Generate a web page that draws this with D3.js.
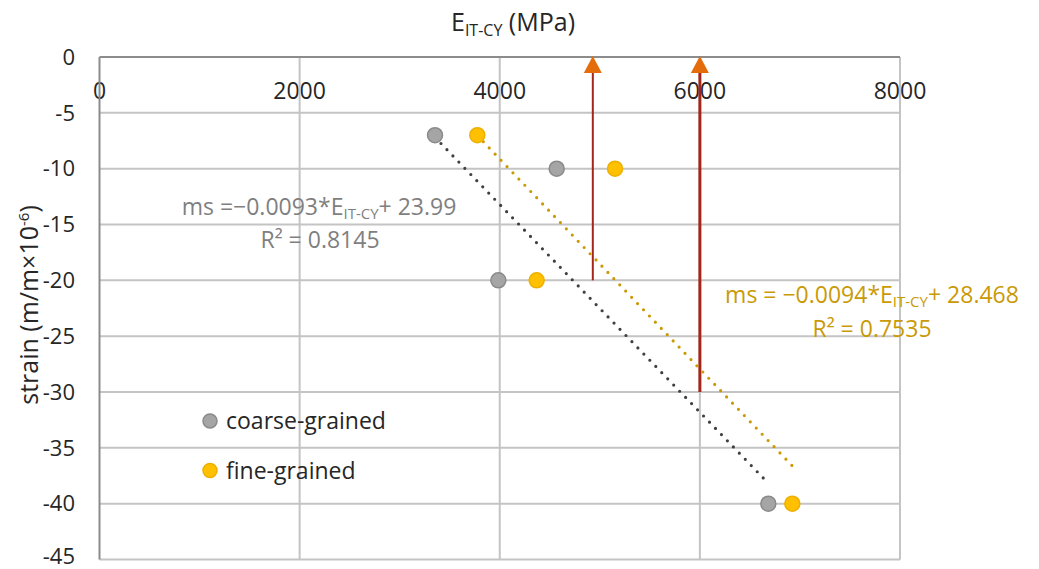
<!DOCTYPE html>
<html>
<head>
<meta charset="utf-8">
<script src="https://cdn.jsdelivr.net/npm/d3@7"></script>
<style>
  body { margin: 0; background: #fff; }
  svg { display: block; font-family: "Open Sans", sans-serif; }
</style>
</head>
<body>
<div id="chart"></div>
<script>
// values
const xTicks = [0, 2000, 4000, 6000, 8000];
const yTicks = [0, -5, -10, -15, -20, -25, -30, -35, -40, -45];

const coarseE = [3353, 4569, 3986, 6684];
const coarseMs = [-7, -10, -20, -40];
const fineE = [3776, 5152, 4369, 6924];
const fineMs = [-7, -10, -20, -40];

// trendline coefficients as shown on the chart: [slope, intercept]
const coarseFit = [-0.0093, 23.99];
const fineFit = [-0.0094, 28.468];

// vertical arrows: E value, start strain (they point up to 0)
const arrowE = [4930, 6000];
const arrowFrom = [-20, -30];
const arrowWidth = [2, 3];

const W = 1039, H = 569;

const svg = d3.select('#chart').append('svg')
    .attr('width', W)
    .attr('height', H);

const x = d3.scaleLinear().domain([0, 8000]).range([99.5, 900]);
const y = d3.scaleLinear().domain([0, -45]).range([57, 559.5]);

// tick labels first, grid lines are drawn over them like in the original
svg.append('g')
    .selectAll('text')
    .data(xTicks)
    .enter()
    .append('text')
    .attr('x', d => x(d))
    .attr('y', 90.5)
    .attr('dy', '0.35em')
    .attr('text-anchor', 'middle')
    .style('font-size', '23px')
    .style('fill', '#262626')
    .text(d => d);

svg.append('g')
    .selectAll('text')
    .data(yTicks)
    .enter()
    .append('text')
    .attr('x', 75)
    .attr('y', d => Math.min(y(d), 556))
    .attr('dy', '0.35em')
    .attr('text-anchor', 'end')
    .style('font-size', '22px')
    .style('fill', '#262626')
    .text(d => d === 0 ? '0' : '-' + Math.abs(d));

// grid
const grid = svg.append('g');
grid.selectAll('line.h')
    .data(yTicks.slice(1))
    .enter()
    .append('line')
    .attr('x1', x(0)).attr('x2', x(8000))
    .attr('y1', d => y(d)).attr('y2', d => y(d))
    .style('stroke', '#c4c4c4')
    .style('stroke-width', 2);

grid.selectAll('line.v')
    .data(xTicks.slice(1))
    .enter()
    .append('line')
    .attr('x1', d => x(d)).attr('x2', d => x(d))
    .attr('y1', y(0)).attr('y2', y(-45))
    .style('stroke', '#c4c4c4')
    .style('stroke-width', 2);

// axis lines (top and left)
svg.append('line')
    .attr('x1', x(0)).attr('x2', x(8000))
    .attr('y1', y(0)).attr('y2', y(0))
    .style('stroke', '#8c8c8c')
    .style('stroke-width', 2);
svg.append('line')
    .attr('x1', x(0)).attr('x2', x(0))
    .attr('y1', y(0)).attr('y2', y(-45))
    .style('stroke', '#8c8c8c')
    .style('stroke-width', 2);

// arrows
const arrows = svg.append('g');
arrowE.forEach((e, i) => {
    arrows.append('line')
        .attr('x1', x(e)).attr('x2', x(e))
        .attr('y1', y(arrowFrom[i])).attr('y2', y(0) + 14)
        .style('stroke', '#a3261b')
        .style('stroke-width', arrowWidth[i]);
    const tx = x(e), ty = y(0) - 1;
    arrows.append('path')
        .attr('d', `M${tx},${ty} L${tx - 9},${ty + 17} L${tx + 9},${ty + 17} Z`)
        .style('fill', '#e46c0a');
});

// trendlines
function trend(es, fit) {
    const lo = d3.min(es), hi = d3.max(es);
    return [[lo, fit[0] * lo + fit[1]], [hi, fit[0] * hi + fit[1]]];
}
const line = d3.line().x(d => x(d[0])).y(d => y(d[1]));

svg.append('path')
    .attr('d', line(trend(coarseE, coarseFit)))
    .style('fill', 'none')
    .style('stroke', '#404040')
    .style('stroke-width', 3.2)
    .style('stroke-linecap', 'round')
    .style('stroke-dasharray', '0 8.6');

svg.append('path')
    .attr('d', line(trend(fineE, fineFit)))
    .style('fill', 'none')
    .style('stroke', '#c99a06')
    .style('stroke-width', 3.2)
    .style('stroke-linecap', 'round')
    .style('stroke-dasharray', '0 8.6');

// points
svg.append('g')
    .selectAll('circle')
    .data(coarseE.map((e, i) => [e, coarseMs[i]]))
    .enter()
    .append('circle')
    .attr('cx', d => x(d[0]))
    .attr('cy', d => y(d[1]))
    .attr('r', 7.5)
    .style('fill', '#a5a5a5')
    .style('stroke', '#8a8a8a')
    .style('stroke-width', 1.5);

svg.append('g')
    .selectAll('circle')
    .data(fineE.map((e, i) => [e, fineMs[i]]))
    .enter()
    .append('circle')
    .attr('cx', d => x(d[0]))
    .attr('cy', d => y(d[1]))
    .attr('r', 7.5)
    .style('fill', '#ffc000')
    .style('stroke', '#eeb000')
    .style('stroke-width', 1.5);

// trendline equations
function equation(cx, cy, fit, color, sep) {
    const g = svg.append('g').style('fill', color).style('font-size', '23px');
    const t = g.append('text')
        .attr('x', cx).attr('y', cy).attr('dy', '0.35em')
        .attr('text-anchor', 'middle');
    t.append('tspan').text('ms =' + sep + '\u2212' + Math.abs(fit[0]).toFixed(4) + '*E');
    t.append('tspan').attr('dy', 4).style('font-size', '15px').text('IT-CY');
    t.append('tspan').attr('dy', -4).text('+ ' + fit[1]);
    return g;
}
const eq1 = equation(319, 207, coarseFit, '#7f7f7f', '');
eq1.append('text').attr('x', 320).attr('y', 240).attr('dy', '0.35em')
    .attr('text-anchor', 'middle').text('R\u00b2 = 0.8145');
const eq2 = equation(872, 295, fineFit, '#c99a06', ' ');
eq2.append('text').attr('x', 872).attr('y', 329).attr('dy', '0.35em')
    .attr('text-anchor', 'middle').text('R\u00b2 = 0.7535');

// legend
const legend = [['coarse-grained', '#a5a5a5', '#8a8a8a'], ['fine-grained', '#ffc000', '#eeb000']];
const lg = svg.append('g');
legend.forEach((d, i) => {
    const ly = 421 + i * 49.5;
    lg.append('circle')
        .attr('cx', 210).attr('cy', ly).attr('r', 7)
        .style('fill', d[1]).style('stroke', d[2]).style('stroke-width', 1.5);
    lg.append('text')
        .attr('x', 226).attr('y', ly).attr('dy', '0.35em')
        .style('font-size', '23px')
        .style('fill', '#262626')
        .text(d[0]);
});

// axis titles
const xt = svg.append('text')
    .attr('x', 513).attr('y', 22).attr('dy', '0.35em')
    .attr('text-anchor', 'middle')
    .style('font-size', '25px')
    .style('fill', '#262626');
xt.append('tspan').text('E');
xt.append('tspan').attr('dy', 5).style('font-size', '16px').text('IT-CY');
xt.append('tspan').attr('dy', -5).text(' (MPa)');

const yt = svg.append('text')
    .attr('transform', 'translate(29,305) rotate(-90)')
    .attr('dy', '0.35em')
    .attr('text-anchor', 'middle')
    .style('font-size', '25px')
    .style('fill', '#262626');
yt.append('tspan').text('strain (m/m\u00d710');
yt.append('tspan').attr('dy', -9).style('font-size', '15px').text('-6');
yt.append('tspan').attr('dy', 9).text(')');
</script>
</body>
</html>
